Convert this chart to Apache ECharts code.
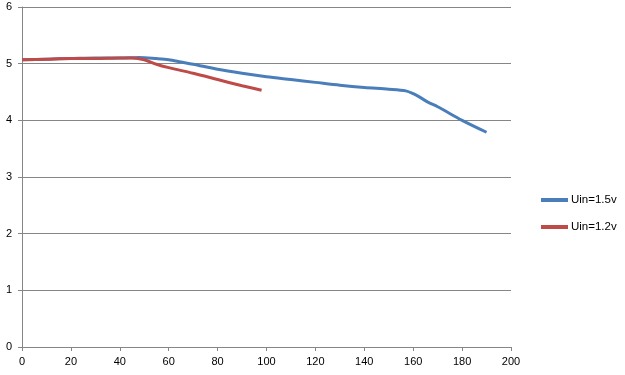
<!DOCTYPE html>
<html><head><meta charset="utf-8">
<script src="https://cdn.jsdelivr.net/npm/echarts@6/dist/echarts.min.js"></script>
<style>html,body{margin:0;padding:0;background:#fff}#c{width:625px;height:375px}</style>
</head><body><div id="c"></div>
<script>
const seriesNames = ['Uin=1.5v', 'Uin=1.2v'];
const blueX = [0, 10, 20, 30, 40, 48, 55, 60, 65, 70, 80, 90, 100, 110, 120, 130, 140, 150, 157, 160, 163, 166, 170, 180, 190];
const blueY = [5.07, 5.08, 5.09, 5.10, 5.10, 5.11, 5.09, 5.07, 5.03, 4.99, 4.90, 4.83, 4.77, 4.72, 4.67, 4.62, 4.58, 4.55, 4.52, 4.47, 4.40, 4.32, 4.24, 4.00, 3.79];
const redX = [0, 10, 20, 30, 40, 45, 50, 55, 60, 70, 80, 90, 98];
const redY = [5.07, 5.08, 5.09, 5.09, 5.10, 5.10, 5.07, 4.99, 4.93, 4.83, 4.72, 4.61, 4.53];
const xTicks = {min: 0, max: 200, interval: 20};
const yTicks = {min: 0, max: 6, interval: 1};

const chart = echarts.init(document.getElementById('c'), null, {renderer: 'canvas'});
const axisCol = '#868686';
const font = 'Liberation Sans, Arial, sans-serif';
chart.setOption({
  animation: false,
  textStyle: {fontFamily: font},
  grid: {left: 22, right: 114, top: 7, bottom: 28},
  legend: {
    orient: 'vertical', left: 541, top: 194, itemGap: 15, padding: 0,
    itemWidth: 27, itemHeight: 4, icon: 'rect',
    textStyle: {fontSize: 11.5, color: '#000', fontFamily: font, padding: [0, 0, 0, -2]},
    data: seriesNames
  },
  xAxis: {
    type: 'value', min: xTicks.min, max: xTicks.max, interval: xTicks.interval,
    axisLine: {show: true, lineStyle: {color: axisCol, width: 1}},
    axisTick: {show: true, length: 4, lineStyle: {color: axisCol}},
    axisLabel: {fontSize: 11, color: '#000', margin: 9},
    splitLine: {show: false}
  },
  yAxis: {
    type: 'value', min: yTicks.min, max: yTicks.max, interval: yTicks.interval,
    axisLine: {show: true, lineStyle: {color: axisCol, width: 1}},
    axisTick: {show: true, length: 4, lineStyle: {color: axisCol}},
    axisLabel: {fontSize: 11, color: '#000', margin: 10},
    splitLine: {show: true, lineStyle: {color: axisCol, width: 1}}
  },
  series: [
    {name: seriesNames[0], type: 'line', smooth: 0.3, showSymbol: false, symbol: 'none',
     data: blueX.map((x, i) => [x, blueY[i]]),
     lineStyle: {color: '#4a7ebb', width: 3}, itemStyle: {color: '#4a7ebb'}},
    {name: seriesNames[1], type: 'line', smooth: 0.3, showSymbol: false, symbol: 'none',
     data: redX.map((x, i) => [x, redY[i]]),
     lineStyle: {color: '#be4b48', width: 3}, itemStyle: {color: '#be4b48'}}
  ]
});
</script></body></html>
